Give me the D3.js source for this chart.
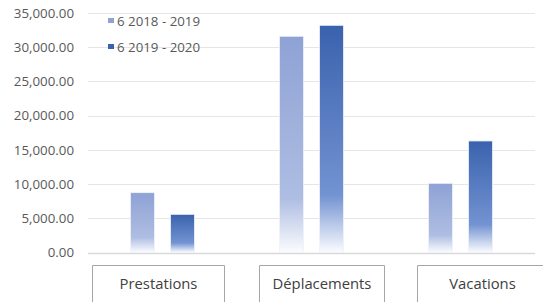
<!DOCTYPE html>
<html><head><meta charset="utf-8">
<script src="https://cdn.jsdelivr.net/npm/d3@7"></script>
<style>body{margin:0;background:#fff}svg{display:block}</style>
</head><body>
<script>
const categories = ["Prestations", "Déplacements", "Vacations"];
const seriesNames = ["6 2018 - 2019", "6 2019 - 2020"];
const values2018 = [8740, 31600, 10110];
const values2019 = [5580, 33200, 16300];
const yTicks = [0, 5000, 10000, 15000, 20000, 25000, 30000, 35000];

const W = 543, H = 302;
const M = {left: 88, right: 8, top: 13, zero: 252.5};
const svg = d3.select("body").append("svg").attr("width", W).attr("height", H);
const font = "'Open Sans', 'Segoe UI', sans-serif";

const x = d3.scaleBand().domain(categories).range([M.left, W - M.right]);
const y = d3.scaleLinear().domain([0, 35000]).range([M.zero, M.top]);

const defs = svg.append("defs");
const colors = [
  {top: "#8fa2d5", mid: "#aebde2", end: "#fbfcfe"},
  {top: "#3a62ad", mid: "#7393d2", end: "#fbfcfe"}
];
colors.forEach((c, i) => {
  const g = defs.append("linearGradient").attr("id", "g" + i)
    .attr("x1", 0).attr("y1", 0).attr("x2", 0).attr("y2", 1);
  g.append("stop").attr("offset", "0").attr("stop-color", c.top);
  g.append("stop").attr("offset", "0.75").attr("stop-color", c.mid);
  g.append("stop").attr("offset", "1").attr("stop-color", c.end);
});

// gridlines
svg.append("g").selectAll("line").data(yTicks).join("line")
  .attr("x1", M.left).attr("x2", W - M.right)
  .attr("y1", d => Math.round(y(d)) + 0.5).attr("y2", d => Math.round(y(d)) + 0.5)
  .attr("stroke", d => d === 0 ? "#d9d9d9" : "#e6e6e6").attr("stroke-width", d => d === 0 ? 1.5 : 1);

// y axis labels
const yAxis = d3.axisLeft(y).tickValues(yTicks).tickSize(0).tickPadding(0)
  .tickFormat(d3.format(",.2f"));
const ya = svg.append("g").attr("transform", `translate(74,0)`).call(yAxis);
ya.select(".domain").remove();
ya.selectAll("text").attr("font-family", font).attr("font-size", 13.3).attr("fill", "#595959");

// bars
const bw = 24;
const offsets = [-32, 8];
[values2018, values2019].forEach((vals, si) => {
  svg.append("g").selectAll("rect").data(vals).join("rect")
    .attr("x", (d, i) => x(categories[i]) + x.bandwidth() / 2 + offsets[si])
    .attr("y", d => y(d))
    .attr("width", bw)
    .attr("height", d => y(0) - y(d))
    .attr("fill", `url(#g${si})`)
    .attr("stroke", "#eef2fa").attr("stroke-width", 0.8);
});

// category buttons
const boxes = [[92.5, 224.5], [259.5, 384.5], [417.5, 560]];
const cg = svg.append("g");
categories.forEach((c, i) => {
  const [a, b] = boxes[i];
  cg.append("path").attr("d", `M${a},${H + 2}V265.5H${b}V${H + 2}`)
    .attr("fill", "none").attr("stroke", "#a6a6a6").attr("stroke-width", 1);
  const cx = i === 2 ? 482.5 : (a + b) / 2;
  cg.append("text").attr("x", cx).attr("y", 289).attr("text-anchor", "middle")
    .attr("font-family", font).attr("font-size", 14.8).attr("fill", "#404040").text(c);
});

// legend
const lg = svg.append("g");
seriesNames.forEach((s, i) => {
  const yy = 21 + i * 26;
  lg.append("rect").attr("x", 108).attr("y", yy - 3).attr("width", 6).attr("height", 5)
    .attr("fill", colors[i].top);
  lg.append("text").attr("x", 117).attr("y", yy + 4.5).attr("font-family", font)
    .attr("font-size", 13.3).attr("fill", "#595959").text(s);
});
</script>
</body></html>
